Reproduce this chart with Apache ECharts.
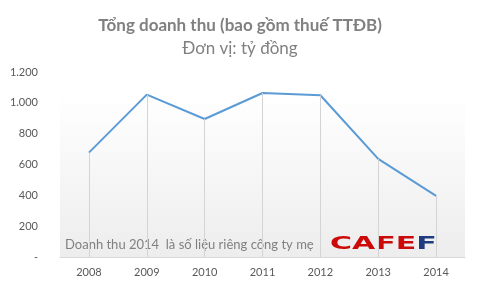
<!DOCTYPE html>
<html><head><meta charset="utf-8">
<script src="https://cdn.jsdelivr.net/npm/echarts@6/dist/echarts.min.js"></script>
<style>html,body{margin:0;padding:0;background:#fff}#c{width:480px;height:289px}</style>
</head><body><div id="c"></div>
<script>
var years = ['2008','2009','2010','2011','2012','2013','2014'];
var revenue = [677, 1053, 895, 1064, 1049, 636, 396];
var yTicks = [0, 200, 400, 600, 800, 1000, 1200];
var titleText = 'Tổng doanh thu (bao gồm thuế TTĐB)';
var subText = 'Đơn vị: tỷ đồng';
var noteText = 'Doanh thu 2014  là số liệu riêng công ty mẹ';

function fmt(v){ if (v === 0) return '-'; return String(v).replace(/\B(?=(\d{3})+(?!\d))/g, '.'); }

var chart = echarts.init(document.getElementById('c'));
var drops = years.map(function(y, i){ return [{coord:[y, 0]}, {coord:[y, revenue[i]]}]; });
chart.setOption({
  animation: false,
  title: {
    text: titleText, subtext: subText, left: 'center', top: 12, itemGap: 6,
    textStyle: {fontFamily: 'Lato', fontWeight: 'bold', fontSize: 17, color: '#808080'},
    subtextStyle: {fontFamily: 'Lato', fontSize: 17, color: '#808080'}
  },
  grid: {left: 60, right: 15, top: 72, bottom: 32,
    show: true, borderWidth: 0,
    backgroundColor: new echarts.graphic.LinearGradient(0,0,0,1,[{offset:0,color:'#ffffff'},{offset:0.12,color:'#ffffff'},{offset:1,color:'#ededed'}])},
  xAxis: {type: 'category', data: years, boundaryGap: true,
    axisLine: {lineStyle: {color: '#d9d9d9'}}, axisTick: {show: false},
    axisLabel: {color: '#595959', fontFamily: 'Lato', fontSize: 11, margin: 10}},
  yAxis: {type: 'value', min: yTicks[0], max: yTicks[yTicks.length-1], interval: 200,
    axisLine: {show: false}, axisTick: {show: false}, splitLine: {show: false},
    axisLabel: {color: '#595959', fontFamily: 'Lato', fontSize: 11, margin: 22, formatter: fmt}},
  series: [{
    type: 'line', data: revenue, symbol: 'none',
    lineStyle: {color: '#5b9bd5', width: 2},
    markLine: {silent: true, symbol: 'none', label: {show: false},
      lineStyle: {color: '#d4d4d4', width: 1, type: 'solid'}, data: drops},
    z: 3
  }],
  graphic: [
    {type: 'text', x: 65, y: 245, style: {text: noteText, fill: '#808080', font: '13px Lato', verticalAlign: 'middle'}},
    {type: 'text', x: 330, y: 244.5, scaleX: 1.58, scaleY: 0.95,
      style: {verticalAlign: 'middle', rich: {a: {fill: '#cc0a0a', font: '900 19px "DejaVu Sans"'}, b: {fill: '#1f3c80', font: '900 19px "DejaVu Sans"'}},
        text: '{a|CAFE}{b|F}'}}
  ]
});
</script></body></html>
